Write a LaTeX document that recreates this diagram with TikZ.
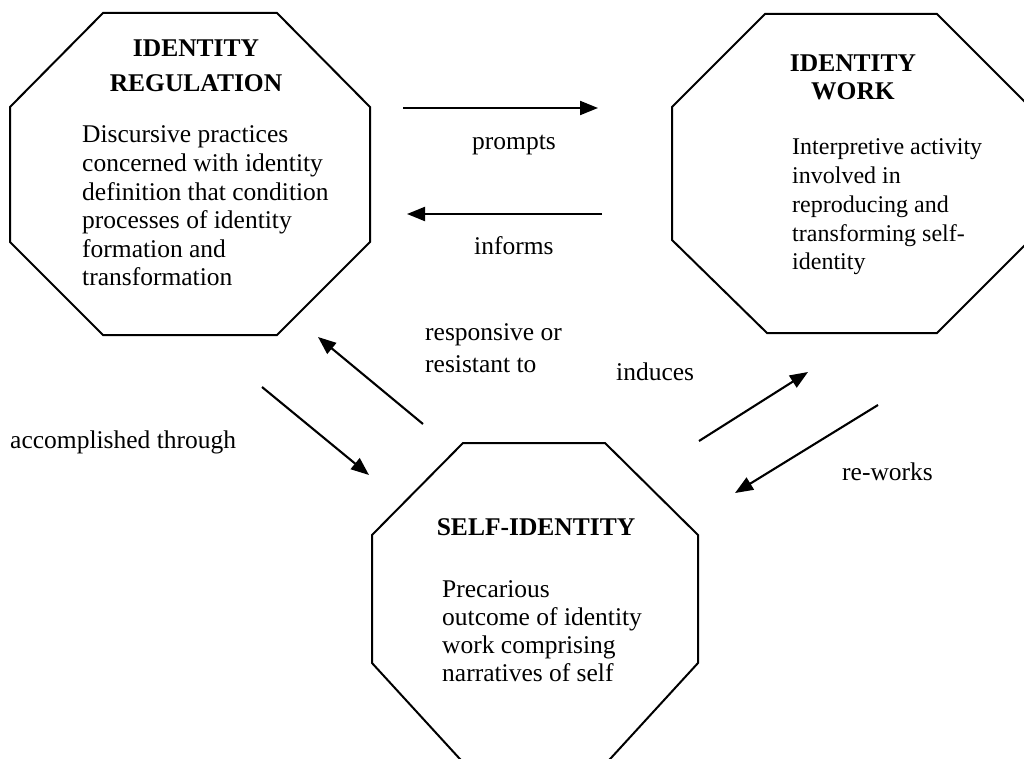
\documentclass[tikz,border=0pt]{standalone}
\usepackage{fontspec}
\setmainfont{Liberation Serif}
\usetikzlibrary{arrows.meta}
\newcommand\leftlines[1]{\vtop{\halign{##\hfil\cr#1\crcr}}}
\newcommand\centerlines[1]{\vtop{\halign{\hfil##\hfil\cr#1\crcr}}}
\tikzset{
  octa/.style={draw, line width=2pt, line join=miter},
  conn/.style={line width=2.1pt, -{Triangle[length=18pt,width=14pt]}},
  head/.style={inner sep=0pt, anchor=base, font=\fontsize{25.5}{35}\selectfont\bfseries},
  body/.style={inner sep=0pt, anchor=base west, font=\fontsize{25.5}{28.6}\selectfont},
  lbl/.style={inner sep=0pt, anchor=base west, font=\fontsize{25.5}{32}\selectfont},
}
\begin{document}
\begin{tikzpicture}[x=1pt,y=-1pt]
\useasboundingbox (0,0) rectangle (1024,759);
\fill[white] (0,0) rectangle (1024,759);
\begin{scope}
\clip (0,0) rectangle (1024,759);
% octagons
\draw[octa] (103,13) -- (277,13) -- (370,107) -- (370,242) -- (277,335) -- (103,335) -- (10,242) -- (10,107) -- cycle;
\draw[octa] (765,14) -- (937,14) -- (1030,107) -- (1030,240) -- (937,333) -- (767,333) -- (672,240) -- (672,107) -- cycle;
\draw[octa] (463,443) -- (605,443) -- (698,535) -- (698,663) -- (600,770) -- (470,770) -- (372,663) -- (372,535) -- cycle;
\end{scope}
% texts in octagons
\node[head] (regH) at (196,57) {\centerlines{IDENTITY\cr REGULATION}};
\node[body] (regB) at (82,143) {\leftlines{Discursive practices\cr concerned with identity\cr definition that condition\cr processes of identity\cr formation and\cr transformation}};
\node[head, font=\fontsize{25.5}{28}\selectfont\bfseries] (workH) at (853,72) {\centerlines{IDENTITY\cr WORK}};
\node[body, font=\fontsize{24}{28.7}\selectfont] (workB) at (792,155) {\leftlines{Interpretive activity\cr involved in\cr reproducing and\cr transforming self-\cr identity}};
\node[head] (selfH) at (536,535) {SELF-IDENTITY};
\node[body, font=\fontsize{25.5}{28.3}\selectfont] (selfB) at (442,597) {\leftlines{Precarious\cr outcome of identity\cr work comprising\cr narratives of self}};
% connector end points
\coordinate (p1) at (403,108); \coordinate (p2) at (598,108);
\coordinate (i1) at (602,214); \coordinate (i2) at (407,214);
\coordinate (r1) at (423,424); \coordinate (r2) at (318,337);
\coordinate (a1) at (262,387); \coordinate (a2) at (369,475);
\coordinate (n1) at (699,441); \coordinate (n2) at (808,372);
\coordinate (w1) at (878,405); \coordinate (w2) at (735,493);
\draw[conn] (p1) -- (p2);
\draw[conn] (i1) -- (i2);
\draw[conn] (r1) -- (r2);
\draw[conn] (a1) -- (a2);
\draw[conn] (n1) -- (n2);
\draw[conn] (w1) -- (w2);
% labels
\node[lbl] (lprompts) at (472,150) {prompts};
\node[lbl] (linforms) at (474,254) {informs};
\node[lbl] (lresp) at (425,340) {\leftlines{responsive or\cr resistant to}};
\node[lbl] (linduces) at (616,380) {induces};
\node[lbl] (laccomp) at (10,448) {accomplished through};
\node[lbl] (lreworks) at (842,480) {re-works};
\end{tikzpicture}
\end{document}
